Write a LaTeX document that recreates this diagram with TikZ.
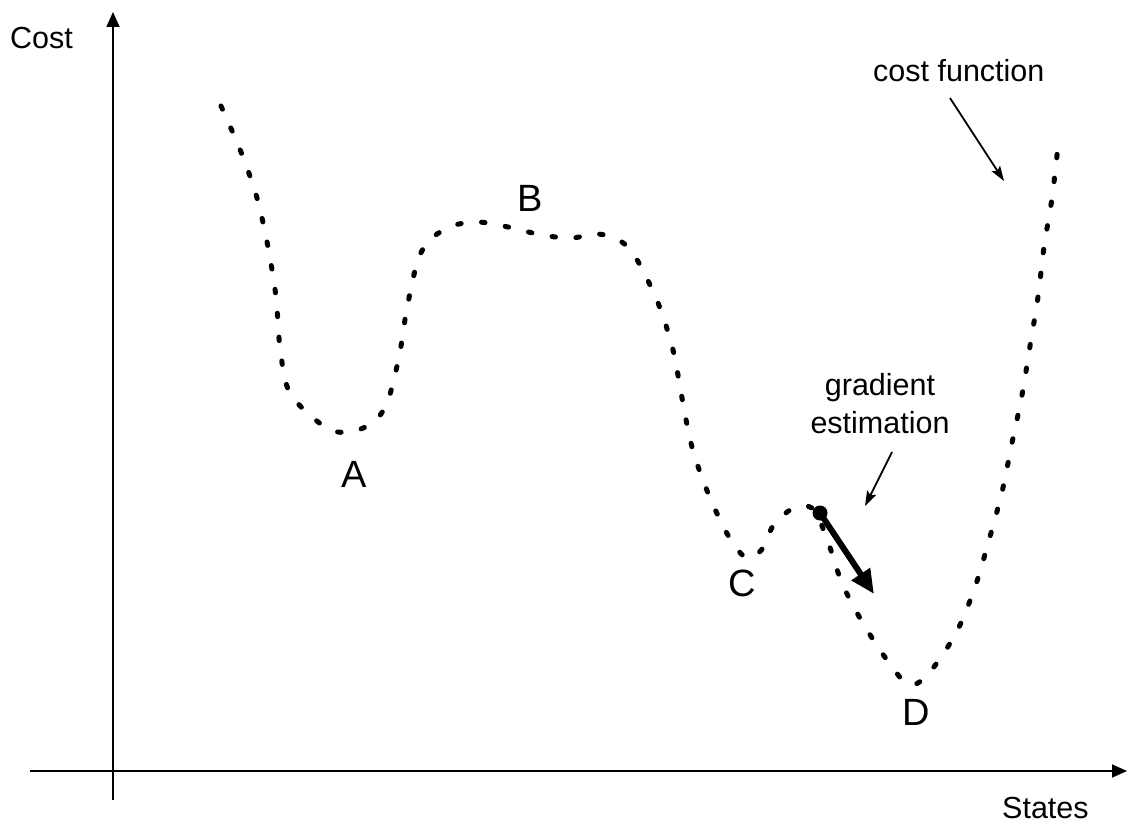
\documentclass[tikz,border=0pt]{standalone}
\usepackage{fontspec}
\setmainfont{Liberation Sans}
\usetikzlibrary{arrows.meta}
\tikzset{
  axisline/.style={line width=1.8pt,-{Triangle[length=15pt,width=13pt]}},
  costcurve/.style={line width=5pt,line cap=round,dash pattern=on 3.5pt off 20.5pt},
  smalltext/.style={font=\fontsize{30.5}{38}\selectfont,inner sep=0pt},
  bigletter/.style={font=\fontsize{38}{44}\selectfont,inner sep=0pt},
  pointer/.style={line width=1.8pt,-{Stealth[length=15pt,width=10pt,inset=3pt]}},
  gradarrow/.style={line width=6pt,-{Triangle[length=24pt,width=21pt]}}
}
\begin{document}
\begin{tikzpicture}[x=1pt,y=-1pt]
\useasboundingbox (0,0) rectangle (1128,824);
% axes
\coordinate (ybot) at (113,800);
\coordinate (ytop) at (113,12);
\coordinate (xleft) at (30,771);
\coordinate (xright) at (1127,771);
\draw[axisline] (ybot) -- (ytop);
\draw[axisline] (xleft) -- (xright);
\node[smalltext,anchor=base west] (cost) at (10,49) {Cost};
\node[smalltext,anchor=base west] (states) at (1002,818) {States};
% cost curve
\draw[costcurve] plot[smooth,tension=0.55] coordinates {
(221,106) (241,152) (257,198) (268,247) (276,297) (280,347) (290,393)
(325,427) (349,432) (372,423) (387,403) (399,357) (407,308) (418,260)
(431,239) (452,226) (476,222) (499,225) (524,231) (548,236) (572,238)
(597,234) (619,240) (636,258) (658,303) (673,350) (682,398) (692,447)
(708,493) (729,537) (747,558) (763,548) (773,526) (792,509) (812,508)
(826,536) (842,583) (864,625) (892,667) (910,685) (929,673) (956,633)
(975,587) (989,540) (1002,492) (1012,443) (1022,395) (1030,346)
(1038,297) (1044,247) (1052,198) (1058,146)};
% point labels
\node[bigletter] (A) at (354,474) {A};
\node[bigletter] (B) at (530,198) {B};
\node[bigletter] (C) at (742,583) {C};
\node[bigletter] (D) at (916,712) {D};
% gradient estimation
\node[circle,fill=black,inner sep=0pt,minimum size=15pt] (g0) at (820,513) {};
\coordinate (g1) at (874,594);
\draw[gradarrow] (g0.center) -- (g1);
\node[smalltext,align=center] (glabel) at (880,404) {gradient\\estimation};
\coordinate (gp0) at (892,452);
\coordinate (gp1) at (865,506);
\draw[pointer] (gp0) -- (gp1);
% cost function
\node[smalltext,anchor=base west] (cflabel) at (873,82) {cost function};
\coordinate (cp0) at (950,98);
\coordinate (cp1) at (1004,181);
\draw[pointer] (cp0) -- (cp1);
\end{tikzpicture}
\end{document}
